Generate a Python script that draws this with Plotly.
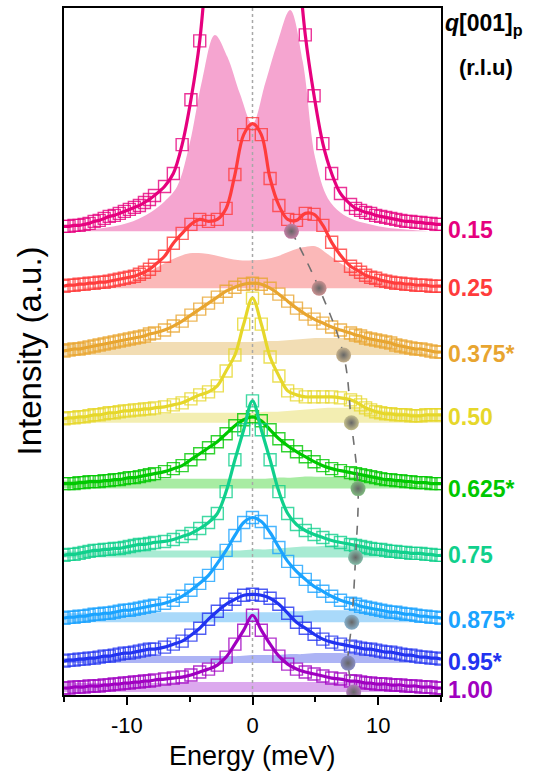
import plotly.graph_objects as go

# Energy transfer grid of the measured points (meV)
energy = [-15.0, -14.6, -14.2, -13.8, -13.4, -13.0, -12.6, -12.2, -11.8, -11.4,
          -11.0, -10.6, -10.2, -9.8, -9.4, -9.0, -8.6, -8.2, -7.8,
          -7.0, -6.3, -5.6, -4.9, -4.2, -3.5, -2.8, -2.1, -1.4, -0.7, 0.0,
          0.7, 1.4, 2.1, 2.8, 3.5, 4.2, 4.9, 5.6, 6.3, 7.0,
          7.8, 8.2, 8.6, 9.0, 9.4, 9.8, 10.2, 10.6, 11.0, 11.4,
          11.8, 12.2, 12.6, 13.0, 13.4, 13.8, 14.2, 14.6, 15.0]

# Energy grid of the phonon (inelastic) components (meV)
energy_ph = [-15, -14, -13, -12, -11, -10, -9, -8, -7, -6, -5, -4, -3, -2, -1, 0,
             1, 2, 3, 4, 5, 6, 7, 8, 9, 10, 11, 12, 13, 14, 15]

q_labels = ["0.15", "0.25", "0.375*", "0.50", "0.625*", "0.75", "0.875*", "0.95*", "1.00"]

# Vertical waterfall offsets (a.u.) of each spectrum and of its phonon component
offset = [470, 410, 343, 277, 211, 140, 77, 34, 8]
offset_ph = [465, 408, 341, 273, 207, 138, 73, 32, 3]

# Measured intensity above offset (a.u.)
I_015 = [0, 0, 1, 1, 2, 3, 5, 6, 8, 10, 11, 13, 15, 17, 19, 21, 24, 27, 31,
         40, 53, 82, 127, 186, 290, 420, 560, 680, 760, 790, 760, 680, 560, 420, 290, 192, 131, 83, 53, 33,
         22, 18, 16, 14, 13, 11, 10, 9, 8, 7, 6, 5, 5, 4, 4, 3, 3, 2, 2]
I_025 = [0, 1, 1, 2, 2, 3, 3, 4, 4, 5, 6, 7, 8, 9, 10, 12, 14, 17, 21,
         30, 43, 53, 62, 67, 65, 67, 78, 112, 152, 163, 152, 108, 81, 67, 66, 73, 72, 61, 44, 31,
         20, 17, 14, 11, 9, 8, 6, 5, 4, 3, 3, 2, 2, 1, 1, 1, 0, 0, 0]
I_0375 = [2, 3, 4, 4, 5, 6, 7, 8, 9, 10, 11, 12, 13, 14, 15, 16, 17, 19, 20,
          23, 27, 32, 38, 44, 50, 56, 62, 66, 69, 70, 69, 65, 59, 52, 45, 39, 34, 30, 26, 23,
          20, 18, 17, 15, 14, 13, 12, 11, 10, 8, 7, 6, 5, 4, 4, 3, 2, 1, 1]
I_050 = [0, 1, 1, 2, 2, 3, 4, 4, 5, 6, 6, 7, 8, 8, 9, 9, 10, 10, 11,
         12, 14, 16, 20, 24, 27, 33, 48, 64, 95, 121, 95, 62, 43, 28, 24, 22, 22, 22, 22, 21,
         19, 17, 14, 11, 9, 7, 6, 5, 5, 4, 4, 4, 3, 3, 3, 4, 4, 4, 4]
I_0625 = [1, 1, 1, 2, 2, 3, 3, 3, 4, 4, 5, 5, 6, 7, 7, 8, 9, 10, 11,
          13, 16, 19, 25, 31, 37, 43, 51, 59, 65, 68, 64, 55, 46, 39, 33, 28, 23, 19, 16, 14,
          12, 11, 10, 9, 8, 7, 6, 5, 5, 4, 4, 3, 3, 2, 2, 2, 1, 1, 1]
I_075 = [0, 1, 1, 2, 3, 4, 5, 5, 6, 6, 7, 7, 8, 9, 10, 11, 11, 12, 13,
         14, 16, 19, 22, 27, 33, 42, 64, 96, 126, 155, 126, 96, 64, 42, 31, 25, 21, 18, 15, 13,
         11, 10, 9, 8, 7, 6, 6, 5, 4, 4, 3, 3, 2, 2, 2, 1, 1, 0, 0]
I_0875 = [0, 1, 1, 2, 2, 3, 4, 4, 5, 5, 6, 7, 8, 8, 9, 10, 11, 12, 13,
          15, 18, 22, 28, 35, 43, 55, 68, 83, 96, 101, 97, 86, 71, 57, 47, 39, 32, 27, 22, 18,
          15, 14, 12, 11, 10, 9, 8, 7, 6, 6, 5, 4, 4, 3, 2, 2, 1, 1, 0]
I_095 = [0, 1, 1, 2, 2, 3, 3, 4, 5, 5, 6, 7, 8, 8, 9, 10, 11, 12, 12,
         14, 17, 20, 26, 33, 42, 50, 57, 62, 66, 67, 66, 63, 57, 48, 39, 33, 27, 22, 19, 17,
         15, 14, 13, 12, 12, 11, 10, 9, 9, 8, 7, 6, 6, 5, 4, 4, 3, 3, 2]
I_100 = [-1, -1, 0, 0, 0, 1, 1, 1, 2, 2, 3, 3, 4, 4, 5, 5, 6, 6, 7,
         8, 9, 10, 12, 15, 18, 22, 30, 43, 57, 72, 57, 43, 31, 23, 18, 15, 13, 11, 9, 8,
         6, 6, 5, 4, 4, 3, 3, 3, 2, 2, 2, 1, 1, 1, 0, 0, 0, -1, -1]

# Phonon component above its offset (a.u.)
P_015 = [0, 1, 2, 3, 5, 8, 13, 20, 30, 45, 88, 152, 197, 175, 138, 108,
         148, 190, 222, 170, 73, 33, 19, 12, 8, 5, 3, 2, 1, 0, 0]
P_025 = [0, 0, 1, 2, 3, 6, 11, 18, 25, 31, 35, 35, 33, 30, 28, 28,
         29, 32, 37, 41, 42, 34, 25, 18, 12, 8, 5, 3, 1, 0, 0]
P_0375 = [12, 12, 12, 12, 12, 13, 13, 13, 13, 13, 13, 13, 13, 13, 13, 13,
          14, 14, 15, 16, 17, 17, 17, 17, 17, 16, 15, 11, 5, 1, 0]
P_050 = [6, 6, 7, 7, 8, 8, 9, 9, 9, 10, 10, 10, 10, 10, 10, 10,
         11, 11, 12, 13, 14, 15, 15, 15, 14, 13, 11, 10, 9, 8, 8]
P_0625 = [8, 8, 9, 9, 9, 10, 10, 10, 10, 10, 10, 10, 10, 10, 10, 10,
          10, 11, 11, 12, 12, 12, 12, 12, 12, 11, 9, 6, 3, 1, 0]
P_075 = [6, 6, 6, 6, 6, 7, 7, 7, 7, 7, 7, 7, 7, 7, 7, 8,
         8, 9, 10, 11, 11, 12, 12, 11, 10, 8, 5, 3, 1, 0, 0]
P_0875 = [9, 9, 9, 9, 9, 9, 10, 10, 10, 10, 10, 10, 10, 10, 10, 10,
          10, 10, 11, 11, 12, 12, 12, 12, 11, 10, 8, 5, 2, 0, 0]
P_095 = [5, 5, 6, 6, 6, 7, 7, 7, 7, 7, 7, 7, 7, 7, 7, 8,
         8, 8, 9, 9, 10, 10, 10, 9, 8, 7, 5, 3, 1, 0, 0]
P_100 = [9, 9, 9, 9, 9, 9, 9, 9, 9, 10, 10, 10, 10, 10, 10, 10,
         10, 10, 10, 10, 10, 10, 10, 10, 10, 9, 7, 4, 1, 0, 0]

# Fitted phonon energy for each q (meV)
phonon_energy = [3.1, 5.3, 7.25, 7.87, 8.4, 8.2, 7.9, 7.6, 8.05]

spectra = [I_015, I_025, I_0375, I_050, I_0625, I_075, I_0875, I_095, I_100]
phonons = [P_015, P_025, P_0375, P_050, P_0625, P_075, P_0875, P_095, P_100]

line_colors = ["#E6007E", "#FF3C3C", "#E8A530", "#E6D72A", "#00C800",
               "#10D08C", "#1AA3FF", "#2233F0", "#A000C0"]
fill_colors = ["#F5A5D0", "#FBB8B8", "#F2DDB4", "#F3EEB2", "#A8ECA3",
               "#A8EBD3", "#A9D9FA", "#ADB4F5", "#DCA9EE"]

FONT = "Liberation Sans, Arial, sans-serif"


def blend(c1, c2, t):
    a = [int(c1[i:i + 2], 16) for i in (1, 3, 5)]
    b = [int(c2[i:i + 2], 16) for i in (1, 3, 5)]
    return "#" + "".join(f"{round(x * t + y * (1 - t)):02x}" for x, y in zip(a, b))


def rgba(c, a):
    return f"rgba({int(c[1:3], 16)},{int(c[3:5], 16)},{int(c[5:7], 16)},{a})"


fig = go.Figure()

# Shaded phonon components
for i in range(len(q_labels)):
    base = offset_ph[i]
    fig.add_trace(go.Scatter(x=energy_ph, y=[base] * len(energy_ph), mode="lines",
                             line=dict(width=0, color=fill_colors[i]),
                             hoverinfo="skip", showlegend=False))
    fig.add_trace(go.Scatter(x=energy_ph, y=[base + v for v in phonons[i]], mode="lines",
                             line=dict(width=0, color=fill_colors[i], shape="spline"),
                             fill="tonexty", fillcolor=fill_colors[i],
                             hoverinfo="skip", showlegend=False))

# Elastic line position
fig.add_trace(go.Scatter(x=[0, 0], y=[0, 689], mode="lines",
                         line=dict(color="#A8A8A8", width=1.5, dash="dot"),
                         hoverinfo="skip", showlegend=False))

# Data (open squares) and fits (solid lines)
for i in range(len(q_labels)):
    y = [offset[i] + v for v in spectra[i]]
    fig.add_trace(go.Scatter(x=energy, y=y, mode="markers",
                             marker=dict(symbol="square-open", size=12,
                                         color=rgba(line_colors[i], 0.8),
                                         line=dict(width=1.4)),
                             name=q_labels[i], showlegend=False))
    fig.add_trace(go.Scatter(x=energy, y=y, mode="lines",
                             line=dict(color=line_colors[i], width=3.2, shape="spline"),
                             hoverinfo="skip", showlegend=False))

# Phonon dispersion guide
sphere_y = [offset_ph[i] for i in range(len(q_labels))]
fig.add_trace(go.Scatter(x=phonon_energy, y=sphere_y, mode="lines",
                         line=dict(color="#707070", width=1.6, dash="dash", shape="spline"),
                         hoverinfo="skip", showlegend=False))
fig.add_trace(go.Scatter(x=phonon_energy, y=sphere_y, mode="markers",
                         marker=dict(size=15,
                                     color=[blend(c, "#b4b4b4", 0.3) for c in line_colors],
                                     gradient=dict(type="radial", color="#666666"),
                                     line=dict(width=0)),
                         hoverinfo="skip", showlegend=False))

annotations = []
label_y = [466, 408, 342, 279, 207, 140, 75, 33, 5]
for i, lab in enumerate(q_labels):
    annotations.append(dict(x=1, xref="paper", xshift=5, xanchor="left",
                            y=label_y[i], yref="y", yanchor="middle",
                            text=f"<b>{lab}</b>", showarrow=False,
                            font=dict(family=FONT, size=23, color=line_colors[i])))
annotations += [
    dict(x=1, xref="paper", xshift=2, xanchor="left", y=1, yref="paper", yshift=-16,
         yanchor="middle", text="<b><i>q</i>[001]<sub>p</sub></b>", showarrow=False,
         font=dict(family=FONT, size=23, color="black")),
    dict(x=1, xref="paper", xshift=45, xanchor="center", y=1, yref="paper", yshift=-59,
         yanchor="middle", text="<b>(r.l.u)</b>", showarrow=False,
         font=dict(family=FONT, size=22, color="black")),
    dict(x=0, xref="paper", xshift=-35, xanchor="center", y=0.5, yref="paper",
         yanchor="middle", text="Intensity (a.u.)", textangle=-90, showarrow=False,
         font=dict(family=FONT, size=33, color="black")),
    dict(x=0, xref="x", xanchor="center", y=0, yref="paper", yshift=-78,
         yanchor="bottom", text="Energy (meV)", showarrow=False,
         font=dict(family=FONT, size=27, color="black")),
]

fig.update_layout(
    width=536, height=774,
    margin=dict(l=64, r=95, t=6, b=79),
    paper_bgcolor="white", plot_bgcolor="white",
    showlegend=False,
    annotations=annotations,
    xaxis=dict(range=[-15, 15], tickvals=[-10, 0, 10], ticktext=["-10", "0", "10"],
               ticks="outside", ticklen=8, tickwidth=2, tickcolor="black",
               ticklabelstandoff=2,
               minor=dict(tickvals=[-15, -5, 5, 15], ticks="outside", ticklen=5,
                          tickwidth=2, tickcolor="black"),
               showline=True, linewidth=2, linecolor="black", mirror=True,
               showgrid=False, zeroline=False,
               tickfont=dict(family=FONT, size=22, color="black")),
    yaxis=dict(range=[0, 689], showticklabels=False, ticks="",
               showline=True, linewidth=2, linecolor="black", mirror=True,
               showgrid=False, zeroline=False),
)

fig.write_html("out.html")
